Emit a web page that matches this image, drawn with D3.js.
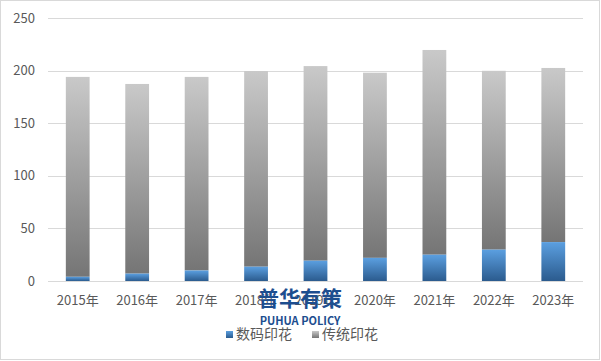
<!DOCTYPE html>
<html>
<head>
<meta charset="utf-8">
<script src="https://d3js.org/d3.v7.min.js"></script>
<style>
  body { margin: 0; background: #fff; }
  text { font-family: "Noto Sans CJK SC", "Liberation Sans", sans-serif; }
</style>
</head>
<body>
<script>
  // chart values
  var years = ["2015年", "2016年", "2017年", "2018年", "2019年", "2020年", "2021年", "2022年", "2023年"];
  var digital = [4, 7, 10, 13.6, 19.3, 22, 25, 29.8, 37];
  var traditional = [190, 180.3, 184, 186, 185, 176, 194.6, 170, 165.5];
  var seriesNames = ["数码印花", "传统印花"];
  var yTicks = [0, 50, 100, 150, 200, 250];

  var width = 601, height = 361;
  // plot area edges ("top" is taken by window.top, so use other names)
  var plotL = 48, plotR = 583, plotT = 18, plotB = 281;

  var svg = d3.select("body").append("svg")
      .attr("width", width)
      .attr("height", height);

  svg.append("rect")
      .attr("x", 0.5).attr("y", 0.5)
      .attr("width", width - 2).attr("height", height - 2)
      .attr("fill", "#fff").attr("stroke", "#d9d9d9");

  var defs = svg.append("defs");
  var gGray = defs.append("linearGradient").attr("id", "gGray")
      .attr("x1", 0).attr("y1", 0).attr("x2", 0).attr("y2", 1);
  gGray.append("stop").attr("offset", "0%").attr("stop-color", "#c9c9c9");
  gGray.append("stop").attr("offset", "100%").attr("stop-color", "#757575");
  var gBlue = defs.append("linearGradient").attr("id", "gBlue")
      .attr("x1", 0).attr("y1", 0).attr("x2", 0).attr("y2", 1);
  gBlue.append("stop").attr("offset", "0%").attr("stop-color", "#5b9fe0");
  gBlue.append("stop").attr("offset", "100%").attr("stop-color", "#2b5b8e");

  var x = d3.scaleBand().domain(years).range([plotL, plotR]).paddingInner(0.6).paddingOuter(0.3);
  var y = d3.scaleLinear().domain([0, 250]).range([plotB, plotT]);

  // gridlines
  svg.append("g").selectAll("line").data(yTicks).enter().append("line")
      .attr("x1", plotL).attr("x2", plotR)
      .attr("y1", function(d) { return Math.round(y(d)) + 0.5; })
      .attr("y2", function(d) { return Math.round(y(d)) + 0.5; })
      .attr("stroke", "#d9d9d9");

  // y labels
  svg.append("g").selectAll("text").data(yTicks).enter().append("text")
      .attr("x", 35)
      .attr("y", function(d) { return y(d); })
      .attr("dy", "0.35em")
      .attr("text-anchor", "end")
      .attr("font-size", 13)
      .attr("fill", "#595959")
      .text(function(d) { return d; });

  var rows = years.map(function(yr, i) {
    return { year: yr, d: digital[i], t: traditional[i] };
  });

  var bars = svg.append("g");
  bars.selectAll("rect.t").data(rows).enter().append("rect")
      .attr("class", "t")
      .attr("x", function(r) { return x(r.year); })
      .attr("width", x.bandwidth())
      .attr("y", function(r) { return y(r.d + r.t); })
      .attr("height", function(r) { return y(r.d) - y(r.d + r.t); })
      .attr("fill", "url(#gGray)");
  bars.selectAll("rect.d").data(rows).enter().append("rect")
      .attr("class", "d")
      .attr("x", function(r) { return x(r.year); })
      .attr("width", x.bandwidth())
      .attr("y", function(r) { return y(r.d); })
      .attr("height", function(r) { return y(0) - y(r.d); })
      .attr("fill", "url(#gBlue)");

  // x labels
  svg.append("g").selectAll("text").data(years).enter().append("text")
      .attr("x", function(d) { return x(d) + x.bandwidth() / 2; })
      .attr("y", 305)
      .attr("text-anchor", "middle")
      .attr("font-size", 13)
      .attr("fill", "#595959")
      .text(function(d) { return d; });

  // watermark
  svg.append("text")
      .attr("x", 300).attr("y", 306)
      .attr("text-anchor", "middle")
      .attr("font-size", 21).attr("font-weight", "bold")
      .attr("fill", "#1d4e8f")
      .text("普华有策");
  svg.append("text")
      .attr("x", 300).attr("y", 325)
      .attr("text-anchor", "middle")
      .attr("font-size", 11).attr("font-weight", "bold")
      .attr("fill", "#1d4e8f")
      .text("PUHUA POLICY");

  // legend
  var legend = svg.append("g");
  var lx = [226, 312];
  var fills = ["url(#gBlue)", "url(#gGray)"];
  seriesNames.forEach(function(n, i) {
    legend.append("rect")
        .attr("x", lx[i]).attr("y", 331)
        .attr("width", 7).attr("height", 7)
        .attr("fill", fills[i]);
    legend.append("text")
        .attr("x", lx[i] + 10).attr("y", 334)
        .attr("dy", "0.35em")
        .attr("font-size", 14)
        .attr("fill", "#595959")
        .text(n);
  });
</script>
</body>
</html>
